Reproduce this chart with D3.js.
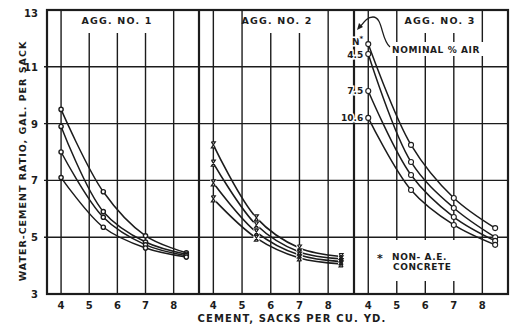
<!DOCTYPE html>
<html>
<head>
<meta charset="utf-8">
<script src="https://cdn.jsdelivr.net/npm/d3@7"></script>
<style>
  html, body { margin: 0; padding: 0; background: #fff; }
  svg { display: block; }
  text { font-family: "DejaVu Sans", sans-serif; font-weight: bold; fill: #1c1c1c; }
</style>
</head>
<body>
<svg id="chart" width="511" height="326"></svg>
<script>
// Water-cement ratio vs. cement content, three aggregates
const panelTitles = ["AGG. NO. 1", "AGG. NO. 2", "AGG. NO. 3"];
const cementSacks = [4, 5.5, 7, 8.45];

// gal. per sack, one row per curve (top curve first)
const agg1Series = [
  [9.5, 6.6, 5.05, 4.45],
  [8.9, 5.9, 4.83, 4.4],
  [8.0, 5.7, 4.73, 4.35],
  [7.1, 5.35, 4.62, 4.3]
];
const agg2Series = [
  [8.25, 5.68, 4.62, 4.32],
  [7.61, 5.43, 4.48, 4.24],
  [6.91, 5.18, 4.37, 4.14],
  [6.35, 4.97, 4.27, 4.06]
];
const agg3Series = [
  [11.8, 8.25, 6.38, 5.32],
  [11.45, 7.65, 6.03, 5.0],
  [10.15, 7.19, 5.71, 4.87],
  [9.2, 6.66, 5.43, 4.73]
];
const airLabels = ["N", "4.5", "7.5", "10.6"];

const yTicks = [3, 5, 7, 9, 11, 13];
const yGrid = [5, 7, 9, 11];
const xTicks = [4, 5, 6, 7, 8];

const ink = "#1c1c1c";
const svg = d3.select("#chart");

const y = d3.scaleLinear().domain([3, 13]).range([294, 10]);
const panelEdges = [[47, 199], [199, 354], [354, 508]];
const xScales = panelEdges.map(([a, b]) => d3.scaleLinear().domain([3.5, 8.9]).range([a, b]));

const left = panelEdges[0][0], right = panelEdges[2][1];

// horizontal grid
svg.append("g").selectAll("line").data(yGrid).join("line")
  .attr("x1", left - 3).attr("x2", right)
  .attr("y1", d => y(d)).attr("y2", d => y(d))
  .attr("stroke", ink).attr("stroke-width", 1.4);

// vertical grid per panel
xScales.forEach(x => {
  svg.append("g").selectAll("line").data(xTicks).join("line")
    .attr("x1", d => x(d)).attr("x2", d => x(d))
    .attr("y1", y(13)).attr("y2", y(3))
    .attr("stroke", ink).attr("stroke-width", 1.4);
});

// white boxes behind the lettering
const boxes = [
  [80, 11, 75, 22], [244, 11, 68, 22], [405, 11, 70, 22],
  [389, 42, 106, 14], [374, 240, 90, 41]
];
svg.append("g").selectAll("rect").data(boxes).join("rect")
  .attr("x", d => d[0]).attr("y", d => d[1]).attr("width", d => d[2]).attr("height", d => d[3])
  .attr("fill", "#fff");

// panel titles
svg.append("g").selectAll("text").data(panelTitles).join("text")
  .attr("x", (d, i) => [117, 277, 440][i]).attr("y", 24)
  .attr("text-anchor", "middle").attr("font-size", 9.5).attr("letter-spacing", 1.2)
  .text(d => d);

// frame and panel dividers
svg.append("rect").attr("x", left).attr("y", y(13)).attr("width", right - left).attr("height", y(3) - y(13))
  .attr("fill", "none").attr("stroke", ink).attr("stroke-width", 2.2);
[panelEdges[1][0], panelEdges[2][0]].forEach(px => {
  svg.append("line").attr("x1", px).attr("x2", px).attr("y1", y(13)).attr("y2", y(3))
    .attr("stroke", ink).attr("stroke-width", 2.2);
});

const curve = (x) => d3.line().x((d, i) => x(cementSacks[i])).y(d => y(d)).curve(d3.curveCatmullRom.alpha(0.5));

// panel 1: curves with small ring markers
{
  const x = xScales[0];
  const g = svg.append("g");
  g.selectAll("path").data(agg1Series).join("path")
    .attr("d", curve(x)).attr("fill", "none").attr("stroke", ink).attr("stroke-width", 1.5);
  g.selectAll("circle").data(agg1Series.flatMap(s => s.map((v, i) => [cementSacks[i], v]))).join("circle")
    .attr("cx", d => x(d[0])).attr("cy", d => y(d[1])).attr("r", 2.1)
    .attr("fill", "#fff").attr("stroke", ink).attr("stroke-width", 1.4);
}

// panel 2: curves with hourglass markers
{
  const x = xScales[1];
  const g = svg.append("g");
  g.selectAll("path").data(agg2Series).join("path")
    .attr("d", curve(x)).attr("fill", "none").attr("stroke", ink).attr("stroke-width", 1.6);
  const pts = agg2Series.flatMap(s => s.map((v, i) => [cementSacks[i], v]));
  g.selectAll("rect.bg").data(pts).join("rect").attr("class", "bg")
    .attr("x", d => x(d[0]) - 3).attr("y", d => y(d[1]) - 3).attr("width", 6).attr("height", 6)
    .attr("fill", "#fff");
  g.selectAll("path.mk").data(pts).join("path").attr("class", "mk")
    .attr("transform", d => `translate(${x(d[0])},${y(d[1])})`)
    .attr("d", "M-2,-3L2,-3L-2,3L2,3M-2,-3L2,3")
    .attr("fill", "none").attr("stroke", ink).attr("stroke-width", 1.2);
}

// panel 3: curves with open circles
{
  const x = xScales[2];
  const g = svg.append("g");
  g.selectAll("path").data(agg3Series).join("path")
    .attr("d", curve(x)).attr("fill", "none").attr("stroke", ink).attr("stroke-width", 1.5);
  g.selectAll("circle").data(agg3Series.flatMap(s => s.map((v, i) => [cementSacks[i], v]))).join("circle")
    .attr("cx", d => x(d[0])).attr("cy", d => y(d[1])).attr("r", 2.5)
    .attr("fill", "#fff").attr("stroke", ink).attr("stroke-width", 1.1);

  // nominal air content labels beside the first point of each curve
  const lab = svg.append("g").selectAll("text").data(airLabels).join("text")
    .attr("x", x(4) - 5).attr("y", (d, i) => y(agg3Series[i][0]) + (i === 0 ? 1 : 3.5))
    .attr("text-anchor", "end").attr("font-size", 9)
    .attr("stroke", "#fff").attr("stroke-width", 3).attr("paint-order", "stroke");
  lab.each(function (d, i) {
    const t = d3.select(this);
    t.append("tspan").text(d);
    if (i === 0) t.append("tspan").attr("font-size", 7).attr("dy", -4).text("*");
  });

  svg.append("text").attr("x", 392).attr("y", 53).attr("font-size", 9).attr("letter-spacing", 0.6)
    .text("NOMINAL % AIR");
  svg.append("path")
    .attr("d", "M390,47 C381,40 383,17 373,17 C367,17 364,22 360,27")
    .attr("fill", "none").attr("stroke", ink).attr("stroke-width", 1.3);
  svg.append("path").attr("d", "M357,30 L359,23 L363,27 Z").attr("fill", ink);

  const note = svg.append("g");
  note.append("text").attr("x", 377).attr("y", 262).attr("font-size", 11).text("*");
  note.append("text").attr("x", 392).attr("y", 260).attr("font-size", 9).attr("letter-spacing", 0.6).text("NON- A.E.");
  note.append("text").attr("x", 393).attr("y", 270).attr("font-size", 9).attr("letter-spacing", 0.6).text("CONCRETE");
}

// y tick labels
svg.append("g").selectAll("text").data(yTicks).join("text")
  .attr("x", 38).attr("y", d => y(d) + 4 + (d === 13 ? 3 : 0))
  .attr("text-anchor", "end").attr("font-size", 10).text(d => d);

// x tick labels per panel
xScales.forEach(x => {
  svg.append("g").selectAll("text").data(xTicks).join("text")
    .attr("x", d => x(d)).attr("y", 309)
    .attr("text-anchor", "middle").attr("font-size", 10).text(d => d);
});

// axis titles
svg.append("text").attr("x", 292).attr("y", 322).attr("text-anchor", "middle")
  .attr("font-size", 10).attr("letter-spacing", 1.15).text("CEMENT, SACKS PER CU. YD.");
svg.append("text").attr("transform", "translate(26,161) rotate(-90)").attr("text-anchor", "middle")
  .attr("font-size", 9.5).attr("letter-spacing", 1.0).text("WATER-CEMENT RATIO, GAL. PER SACK");
</script>
</body>
</html>
